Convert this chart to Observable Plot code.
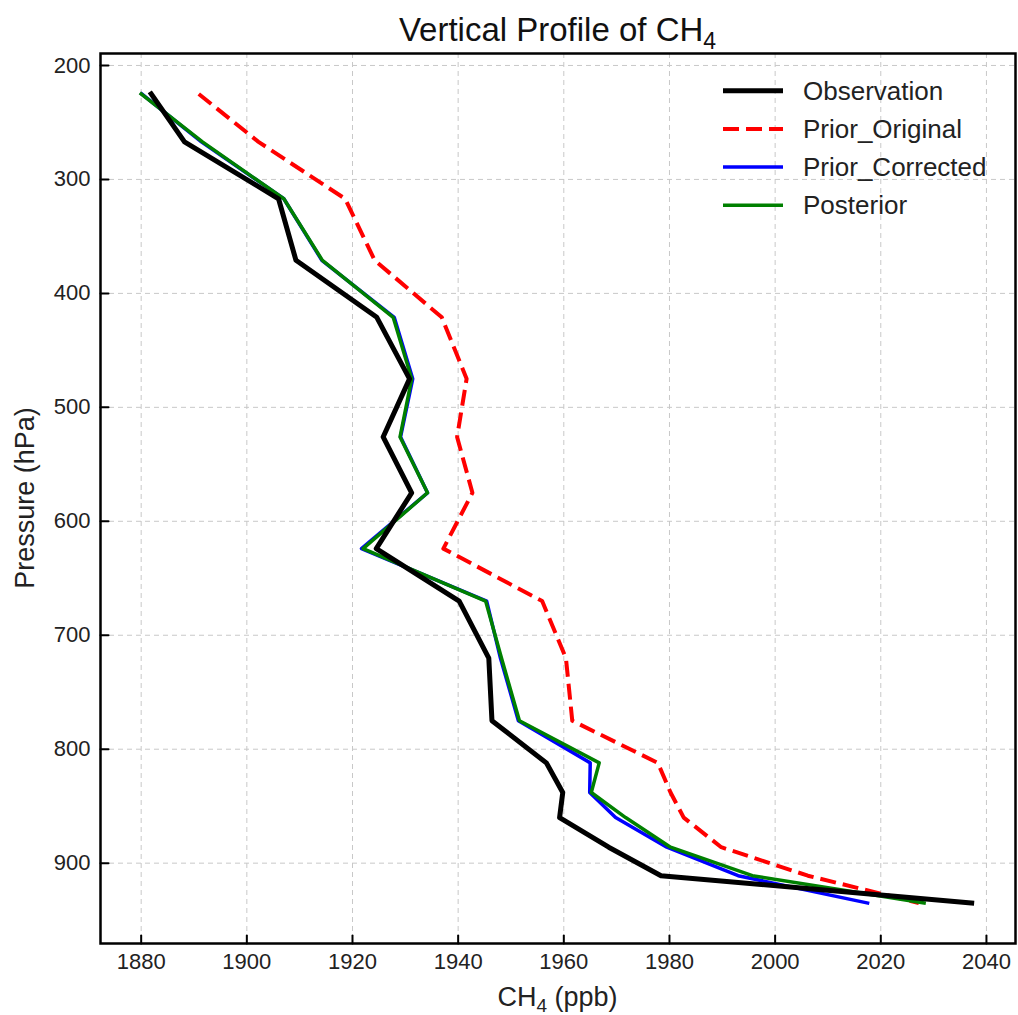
<!DOCTYPE html>
<html>
<head>
<meta charset="utf-8">
<script src="https://cdn.jsdelivr.net/npm/d3@7"></script>
<script src="https://cdn.jsdelivr.net/npm/@observablehq/plot@0.6"></script>
<style>
  html, body { margin: 0; padding: 0; background: white; }
  #chart svg { display: block; }
</style>
</head>
<body>
<div id="chart"></div>
<script>
// ---- Data ----
const pressure = [225, 267, 317, 371, 421, 475, 526, 575, 624, 670, 720, 775, 812, 838, 860, 886, 911, 935];
const observation    = [1881.9, 1888.2, 1906.0, 1909.3, 1924.6, 1930.8, 1925.8, 1931.2, 1924.5, 1940.2, 1945.8, 1946.4, 1956.7, 1959.8, 1959.2, 1968.5, 1978.4, 2037.2];
const priorOriginal  = [1890.9, 1902.2, 1918.6, 1924.2, 1936.9, 1941.6, 1939.8, 1942.7, 1937.2, 1955.9, 1960.4, 1961.6, 1977.8, 1980.2, 1982.7, 1989.8, 2006.2, 2027.2];
const priorCorrected = [1880.1, 1891.4, 1907.0, 1914.2, 1927.9, 1931.4, 1929.1, 1934.2, 1921.7, 1945.4, 1948.0, 1951.4, 1965.0, 1964.9, 1969.8, 1979.5, 1993.0, 2017.5];
const posterior      = [1880.0, 1891.6, 1907.0, 1914.3, 1927.7, 1931.2, 1929.0, 1934.2, 1922.0, 1945.2, 1948.2, 1951.6, 1966.7, 1965.2, 1971.7, 1980.2, 1995.7, 2028.2];

const seriesNames = ["Observation", "Prior_Original", "Prior_Corrected", "Posterior"];
const xTicks = [1880, 1900, 1920, 1940, 1960, 1980, 2000, 2020, 2040];
const yTicks = [200, 300, 400, 500, 600, 700, 800, 900];

// ---- Table built from the arrays ----
const rows = pressure.map((p, i) => ({
  p,
  obs: observation[i],
  orig: priorOriginal[i],
  corr: priorCorrected[i],
  post: posterior[i]
}));

const FONT = "'Liberation Sans', Arial, Helvetica, sans-serif";
const styles = {
  Observation:     {stroke: "black",   strokeWidth: 5,   dash: null},
  Prior_Original:  {stroke: "#ff0000", strokeWidth: 4,   dash: "16,7"},
  Prior_Corrected: {stroke: "#0000ff", strokeWidth: 3.5, dash: null},
  Posterior:       {stroke: "#008000", strokeWidth: 3.5, dash: null}
};

const W = 1018, H = 1015;
const mL = 100, mR = 3, mT = 53, mB = 72;

// inward tick shape for vectors
const tickShape = {draw(context, l) { context.moveTo(0, 0); context.lineTo(0, -l); }};

const chart = Plot.plot({
  width: W,
  height: H,
  marginLeft: mL,
  marginRight: mR,
  marginTop: mT,
  marginBottom: mB,
  style: {fontFamily: FONT, background: "white", color: "#222", overflow: "visible"},
  x: {domain: [1872.3, 2045.5], label: null},
  y: {domain: [189.5, 970.5], reverse: true, label: null},
  marks: [
    Plot.gridX(xTicks, {stroke: "#c8c8c8", strokeOpacity: 1, strokeWidth: 1, strokeDasharray: "5,4"}),
    Plot.gridY(yTicks, {stroke: "#c8c8c8", strokeOpacity: 1, strokeWidth: 1, strokeDasharray: "5,4"}),
    Plot.line(rows, {x: "orig", y: "p", stroke: styles.Prior_Original.stroke, strokeWidth: styles.Prior_Original.strokeWidth, strokeDasharray: styles.Prior_Original.dash, strokeLinecap: "butt", strokeLinejoin: "round"}),
    Plot.line(rows, {x: "corr", y: "p", stroke: styles.Prior_Corrected.stroke, strokeWidth: styles.Prior_Corrected.strokeWidth, strokeLinecap: "square", strokeLinejoin: "round"}),
    Plot.line(rows, {x: "post", y: "p", stroke: styles.Posterior.stroke, strokeWidth: styles.Posterior.strokeWidth, strokeLinecap: "square", strokeLinejoin: "round"}),
    Plot.line(rows, {x: "obs", y: "p", stroke: styles.Observation.stroke, strokeWidth: styles.Observation.strokeWidth, strokeLinecap: "square", strokeLinejoin: "round"}),
    Plot.axisX(xTicks, {anchor: "bottom", tickSize: 0, tickPadding: 10, fontSize: 22, fill: "#222", label: null, tickFormat: d => String(d)}),
    Plot.axisY(yTicks, {anchor: "left", tickSize: 0, tickPadding: 10, fontSize: 22, fill: "#222", label: null, tickFormat: d => String(d)}),
    Plot.vector(xTicks, {x: d => d, frameAnchor: "bottom", length: 8, rotate: 0, anchor: "start", shape: tickShape, stroke: "black", strokeWidth: 2}),
    Plot.vector(yTicks, {y: d => d, frameAnchor: "left", length: 8, rotate: 90, anchor: "start", shape: tickShape, stroke: "black", strokeWidth: 2}),
    Plot.frame({stroke: "black", strokeWidth: 2.5})
  ]
});

document.getElementById("chart").appendChild(chart);

// ---- Annotations: title, axis labels, legend ----
const svg = d3.select(chart);
const cx = mL + (W - mL - mR) / 2;
const cy = mT + (H - mT - mB) / 2;

const title = svg.append("text")
  .attr("x", cx).attr("y", 41)
  .attr("text-anchor", "middle")
  .attr("font-family", FONT).attr("font-size", 33).attr("fill", "#111");
title.append("tspan").text("Vertical Profile of CH");
title.append("tspan").attr("font-size", 23).attr("dy", 8).text("4");

const xl = svg.append("text")
  .attr("x", cx).attr("y", 1006)
  .attr("text-anchor", "middle")
  .attr("font-family", FONT).attr("font-size", 27).attr("fill", "#222");
xl.append("tspan").text("CH");
xl.append("tspan").attr("font-size", 19).attr("dy", 6).text("4");
xl.append("tspan").attr("dy", -6).text(" (ppb)");

svg.append("text")
  .attr("transform", `translate(34,${cy}) rotate(-90)`)
  .attr("text-anchor", "middle")
  .attr("font-family", FONT).attr("font-size", 27).attr("fill", "#222")
  .text("Pressure (hPa)");

const lg = svg.append("g").attr("text-anchor", "start");
seriesNames.forEach((name, i) => {
  const y = 90.7 + i * 38.2;
  const s = styles[name];
  lg.append("line")
    .attr("x1", 723).attr("x2", 783).attr("y1", y).attr("y2", y)
    .attr("stroke", s.stroke).attr("stroke-width", s.strokeWidth)
    .attr("stroke-dasharray", s.dash);
  lg.append("text")
    .attr("x", 803).attr("y", y)
    .attr("dy", "0.35em")
    .attr("text-anchor", "start")
    .attr("font-family", FONT).attr("font-size", 26).attr("fill", "#222")
    .text(name);
});
</script>
</body>
</html>
